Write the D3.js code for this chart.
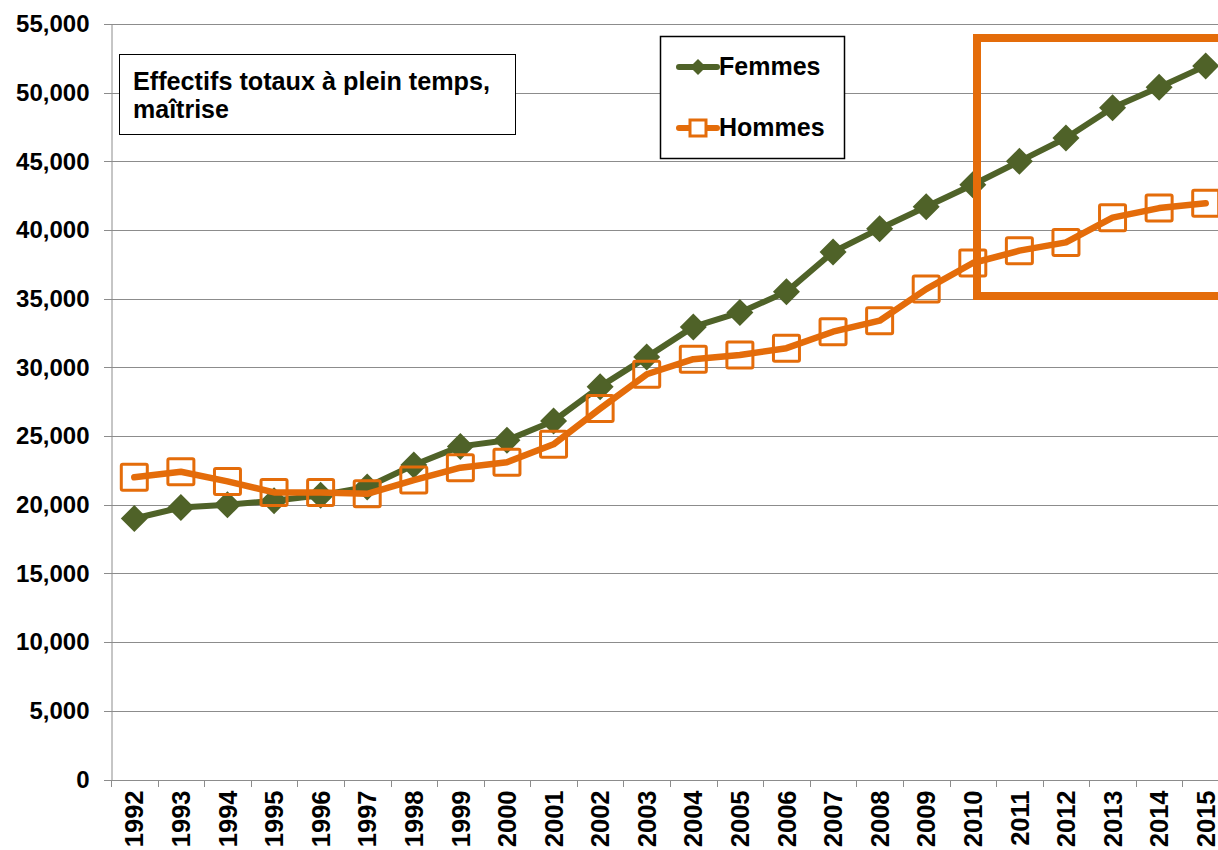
<!DOCTYPE html>
<html>
<head>
<meta charset="utf-8">
<script src="https://cdn.jsdelivr.net/npm/d3@7"></script>
<style>
  body { margin: 0; background: #fff; }
  svg { display: block; font-family: "Liberation Sans", Arial, sans-serif; }
</style>
</head>
<body>
<script>
// data
var years = ['1992','1993','1994','1995','1996','1997','1998','1999','2000','2001','2002','2003',
  '2004','2005','2006','2007','2008','2009','2010','2011','2012','2013','2014','2015'];
var femmes = [19000, 19800, 20000, 20300, 20700, 21300, 22900, 24250, 24700, 26100, 28600, 30750,
  32950, 34000, 35500, 38400, 40100, 41700, 43300, 45000, 46700, 48900, 50400, 51950];
var hommes = [22000, 22400, 21700, 20900, 20900, 20800, 21800, 22700, 23100, 24400, 27000, 29500,
  30600, 30900, 31400, 32600, 33400, 35700, 37600, 38500, 39100, 40900, 41600, 41950];
var yTicks = [0, 5000, 10000, 15000, 20000, 25000, 30000, 35000, 40000, 45000, 50000, 55000];

var w = 1218;
var h = 850;
var green = '#4F6228';
var orange = '#E46C0A';
var font = '"Liberation Sans", Arial, sans-serif';

var svg = d3.select('body')
  .append('svg')
  .attr('width', w)
  .attr('height', h);

// plot area runs a little past the right edge, as in the picture
var x = d3.scaleBand().domain(years).range([111, 1229]);
var y = d3.scaleLinear().domain([0, 55000]).range([779.5, 24]);

// gridlines
svg.append('g')
  .selectAll('line')
  .data(yTicks)
  .enter()
  .append('line')
  .attr('x1', 104)
  .attr('x2', w)
  .attr('y1', function(d) { return Math.round(y(d)) + 0.5; })
  .attr('y2', function(d) { return Math.round(y(d)) + 0.5; })
  .attr('stroke', '#8c8c8c')
  .attr('stroke-width', 1);

// y axis
var yAxis = svg.append('g')
  .attr('transform', 'translate(111.5,0)')
  .call(d3.axisLeft(y).tickValues(yTicks).tickSize(0).tickPadding(22)
    .tickFormat(d3.format(',')));
yAxis.select('.domain').attr('stroke', '#8c8c8c');
yAxis.selectAll('text')
  .attr('font-size', '24px')
  .attr('font-weight', 'bold')
  .attr('fill', '#000')
  .attr('font-family', font);

// x axis
var xAxis = svg.append('g')
  .attr('transform', 'translate(0,' + (Math.round(y(0)) + 0.5) + ')')
  .call(d3.axisBottom(x).tickSize(0).tickPadding(0));
xAxis.select('.domain').remove();
xAxis.selectAll('.tick line').remove();
svg.append('g')
  .selectAll('line')
  .data(years)
  .enter()
  .append('line')
  .attr('x1', function(d) { return Math.round(x(d)) + 0.5; })
  .attr('x2', function(d) { return Math.round(x(d)) + 0.5; })
  .attr('y1', Math.round(y(0)))
  .attr('y2', Math.round(y(0)) + 7)
  .attr('stroke', '#8c8c8c');
xAxis.selectAll('text')
  .attr('font-size', '25.5px')
  .attr('font-weight', 'bold')
  .attr('fill', '#000')
  .attr('font-family', font)
  .attr('text-anchor', 'end')
  .attr('transform', 'translate(0,10) rotate(-90)')
  .attr('dy', '0.36em')
  .attr('x', 0)
  .attr('y', 0);

function cx(i) { return x(years[i]) + x.bandwidth() / 2; }

var line = d3.line()
  .x(function(d, i) { return cx(i); })
  .y(function(d) { return y(d); });

// Femmes
svg.append('path')
  .datum(femmes)
  .attr('d', line)
  .attr('fill', 'none')
  .attr('stroke', green)
  .attr('stroke-width', 6)
  .attr('stroke-linejoin', 'round');

svg.append('g')
  .selectAll('path')
  .data(femmes)
  .enter()
  .append('path')
  .attr('d', 'M0,-13.5L13.5,0L0,13.5L-13.5,0Z')
  .attr('transform', function(d, i) { return 'translate(' + cx(i) + ',' + y(d) + ')'; })
  .attr('fill', green);

// Hommes
svg.append('path')
  .datum(hommes)
  .attr('d', line)
  .attr('fill', 'none')
  .attr('stroke', orange)
  .attr('stroke-width', 6.5)
  .attr('stroke-linejoin', 'round')
  .attr('stroke-linecap', 'round');

svg.append('g')
  .selectAll('rect')
  .data(hommes)
  .enter()
  .append('rect')
  .attr('x', function(d, i) { return cx(i) - 13; })
  .attr('y', function(d) { return y(d) - 13; })
  .attr('width', 26)
  .attr('height', 26)
  .attr('rx', 1.5)
  .attr('fill', 'none')
  .attr('stroke', orange)
  .attr('stroke-width', 3);

// highlight frame
svg.append('rect')
  .attr('x', 977)
  .attr('y', 38)
  .attr('width', 300)
  .attr('height', 258)
  .attr('fill', 'none')
  .attr('stroke', orange)
  .attr('stroke-width', 8);

// title box
svg.append('rect')
  .attr('x', 119.5)
  .attr('y', 54.5)
  .attr('width', 396)
  .attr('height', 80)
  .attr('fill', '#fff')
  .attr('stroke', '#000')
  .attr('stroke-width', 1);
svg.append('text')
  .attr('x', 133)
  .attr('y', 90)
  .attr('font-size', '25px')
  .attr('font-weight', 'bold')
  .attr('textLength', 357)
  .attr('lengthAdjust', 'spacingAndGlyphs')
  .text('Effectifs totaux à plein temps,');
svg.append('text')
  .attr('x', 133)
  .attr('y', 118)
  .attr('font-size', '25px')
  .attr('font-weight', 'bold')
  .text('maîtrise');

// legend
svg.append('rect')
  .attr('x', 660.5)
  .attr('y', 36.5)
  .attr('width', 184)
  .attr('height', 122)
  .attr('fill', '#fff')
  .attr('stroke', '#000')
  .attr('stroke-width', 1.5);
svg.append('line')
  .attr('x1', 679).attr('x2', 717)
  .attr('y1', 67).attr('y2', 67)
  .attr('stroke', green).attr('stroke-width', 6).attr('stroke-linecap', 'round');
svg.append('path')
  .attr('d', 'M0,-8L8,0L0,8L-8,0Z')
  .attr('transform', 'translate(698,67)')
  .attr('fill', green);
svg.append('text')
  .attr('x', 719).attr('y', 75)
  .attr('font-size', '25px').attr('font-weight', 'bold')
  .text('Femmes');
svg.append('line')
  .attr('x1', 679).attr('x2', 717)
  .attr('y1', 128).attr('y2', 128)
  .attr('stroke', orange).attr('stroke-width', 6).attr('stroke-linecap', 'round');
svg.append('rect')
  .attr('x', 690).attr('y', 120).attr('width', 16).attr('height', 16)
  .attr('fill', '#fff').attr('stroke', orange).attr('stroke-width', 3);
svg.append('text')
  .attr('x', 719).attr('y', 136)
  .attr('font-size', '25px').attr('font-weight', 'bold')
  .text('Hommes');
</script>
</body>
</html>
